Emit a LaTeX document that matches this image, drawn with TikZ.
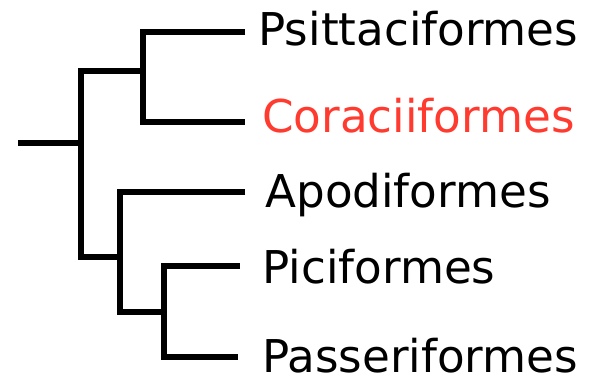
\documentclass[tikz,border=0pt]{standalone}
\usepackage{fontspec}
\setmainfont{DejaVu Sans}
\usepackage{xcolor}
\definecolor{treered}{HTML}{FF3A2F}
\tikzset{
  branch/.style={draw=black, line width=2.6pt, line join=miter},
  taxon/.style={anchor=base west, inner sep=0pt, font=\fontsize{22.6}{27}\selectfont}
}
\begin{document}
\begin{tikzpicture}[x=0.5pt, y=-0.5pt]
  \useasboundingbox (0,0) rectangle (598,384);

  % internal nodes of the tree
  \coordinate (root) at (18,143);
  \coordinate (n0) at (81,143);
  \coordinate (n1) at (143,71);
  \coordinate (n2) at (120,257);
  \coordinate (n3) at (164,312);

  % tips
  \coordinate (psitt) at (245,32);
  \coordinate (corac) at (245,122);
  \coordinate (apodi) at (245,192);
  \coordinate (pici) at (240,266);
  \coordinate (passer) at (238,357);

  % labels
  \node[taxon] (lpsitt) at (258,46) {Psittaciformes};
  \node[taxon, text=treered] (lcorac) at (262,133) {Coraciiformes};
  \node[taxon] (lapodi) at (265,208) {Apodiformes};
  \node[taxon] (lpici) at (262,283) {Piciformes};
  \node[taxon] (lpasser) at (262,372) {Passeriformes};

  % branches
  \draw[branch] (root) -- (n0);
  \draw[branch] (n1) -| (n0) |- (n2);
  \draw[branch] (psitt) -| (n1) |- (corac);
  \draw[branch] (apodi) -| (n2) |- (n3);
  \draw[branch] (pici) -| (n3) |- (passer);
\end{tikzpicture}
\end{document}
